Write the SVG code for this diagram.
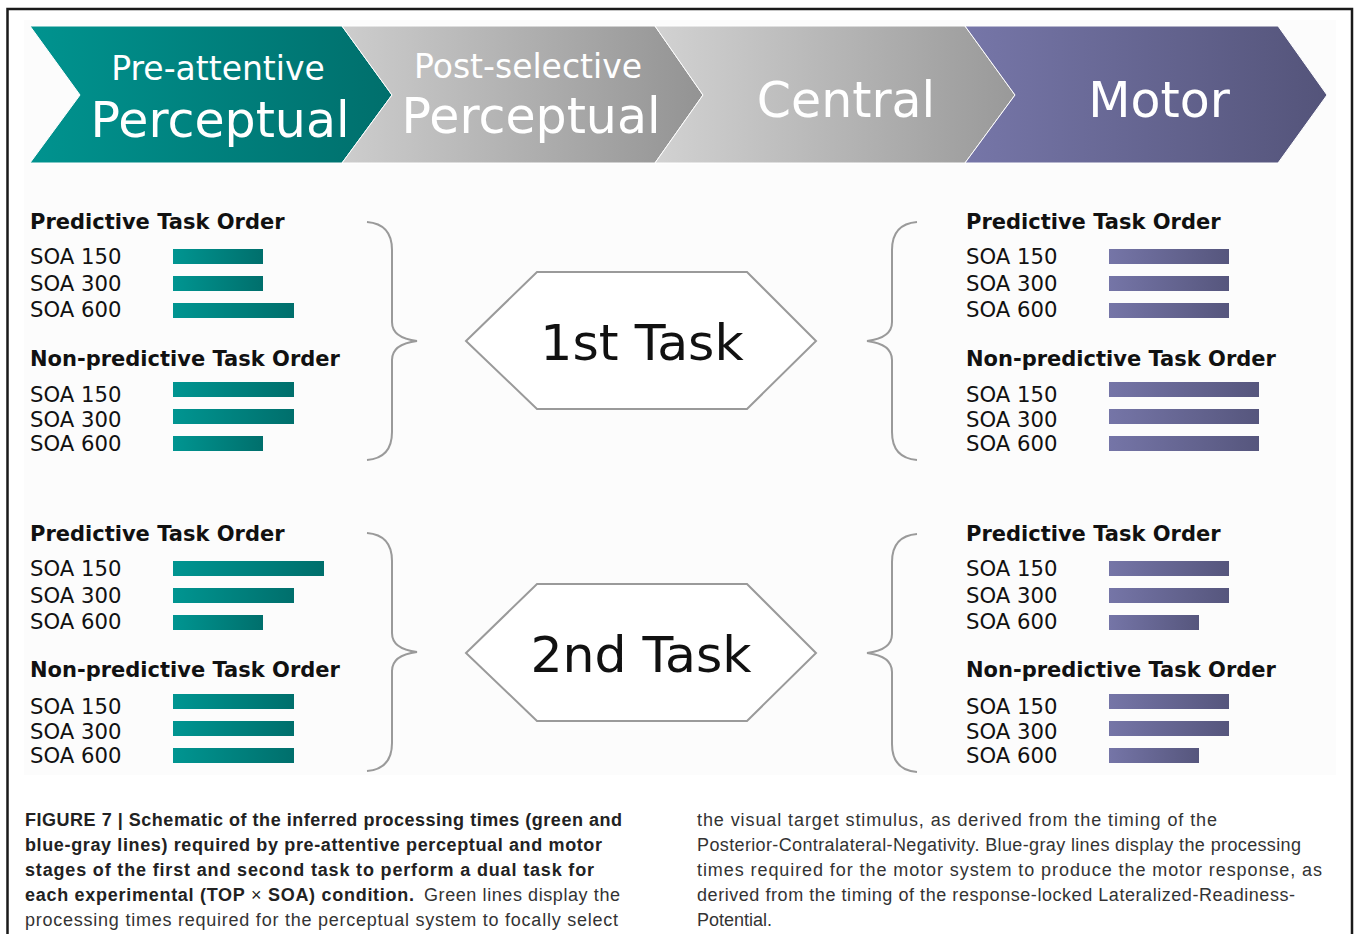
<svg xmlns="http://www.w3.org/2000/svg" width="1355" height="934" viewBox="0 0 1355 934">
<defs>
<linearGradient id="gTeal" x1="0" y1="0" x2="1" y2="0"><stop offset="0" stop-color="#00938f"/><stop offset="1" stop-color="#006f6c"/></linearGradient>
<linearGradient id="gGrey1" x1="0" y1="0" x2="1" y2="0"><stop offset="0" stop-color="#cdcdcd"/><stop offset="1" stop-color="#939393"/></linearGradient>
<linearGradient id="gGrey2" x1="0" y1="0" x2="1" y2="0"><stop offset="0" stop-color="#d2d2d2"/><stop offset="1" stop-color="#999999"/></linearGradient>
<linearGradient id="gMotor" x1="0" y1="0" x2="1" y2="0"><stop offset="0" stop-color="#7676a8"/><stop offset="1" stop-color="#54547a"/></linearGradient>
<linearGradient id="bTeal" x1="0" y1="0" x2="1" y2="0"><stop offset="0" stop-color="#009591"/><stop offset="1" stop-color="#006f6c"/></linearGradient>
<linearGradient id="bMotor" x1="0" y1="0" x2="1" y2="0"><stop offset="0" stop-color="#7575a7"/><stop offset="1" stop-color="#56567d"/></linearGradient>
</defs>
<style>
.frame{fill:none;stroke:#1a1a1a;stroke-width:2.5}
.chev{stroke:#ffffff;stroke-width:1}
.bt{font-family:"DejaVu Sans",Verdana,sans-serif;fill:#ffffff}
.hd{font-family:"DejaVu Sans",Verdana,sans-serif;font-weight:bold;font-size:21px;fill:#111}
.soa{font-family:"DejaVu Sans",Verdana,sans-serif;font-size:21.2px;fill:#111}
.bt1{fill:url(#bTeal)}
.bm{fill:url(#bMotor)}
.brace{fill:none;stroke:#9a9a9a;stroke-width:2}
.hex{fill:#ffffff;stroke:#9a9a9a;stroke-width:2}
.task{font-family:"DejaVu Sans",Verdana,sans-serif;font-size:50.5px;fill:#111;text-anchor:middle}
.cb{font-family:"Liberation Sans",Arial,sans-serif;font-weight:bold;font-size:18px;fill:#222}
.cr{font-family:"Liberation Sans",Arial,sans-serif;font-size:18px;fill:#333}
</style>
<rect x="0" y="0" width="1355" height="934" fill="#ffffff"/>
<rect x="24" y="20" width="1312" height="755" fill="#fcfcfc"/>
<path class="frame" d="M7.5 934 V9 H1352 V934"/>

<g id="banner">
<g id="stage-preattentive">
<polygon class="chev" points="30,26 342,26 392,95 342,163 30,163 80,95" fill="url(#gTeal)"/>
<text class="bt" x="218" y="80" font-size="33" text-anchor="middle">Pre-attentive</text>
<text class="bt" x="220" y="137" font-size="49" text-anchor="middle">Perceptual</text>
</g>
<g id="stage-postselective">
<polygon class="chev" points="342,26 655,26 703,95 655,163 342,163 392,95" fill="url(#gGrey1)"/>
<text class="bt" x="528" y="78" font-size="33" text-anchor="middle">Post-selective</text>
<text class="bt" x="531" y="133" font-size="49" text-anchor="middle">Perceptual</text>
</g>
<g id="stage-central">
<polygon class="chev" points="655,26 965,26 1015,95 965,163 655,163 703,95" fill="url(#gGrey2)"/>
<text class="bt" x="846" y="117" font-size="49" text-anchor="middle">Central</text>
</g>
<g id="stage-motor">
<polygon class="chev" points="965,26 1278,26 1327,95 1278,163 965,163 1015,95" fill="url(#gMotor)"/>
<text class="bt" x="1159" y="117" font-size="49" text-anchor="middle">Motor</text>
</g>
</g>

<g id="connectors">
<path class="brace" d="M367 222 Q392 224 392 250 L392 322 Q392 338 417 341 Q392 344 392 360 L392 432 Q392 458 367 460"/>
<path class="brace" d="M367 533 Q392 535 392 561 L392 633 Q392 649 417 652 Q392 655 392 671 L392 743 Q392 769 367 771"/>
<path class="brace" d="M917 222 Q892 224 892 250 L892 322 Q892 338 867 341 Q892 344 892 360 L892 432 Q892 458 917 460"/>
<path class="brace" d="M917 534 Q892 536 892 562 L892 634 Q892 650 867 653 Q892 656 892 672 L892 744 Q892 770 917 772"/>
</g>

<g id="task1">
<polygon class="hex" points="466,341 537,272 747,272 816,341 747,409 537,409"/>
<text class="task" x="642" y="360">1st Task</text>
</g>
<g id="task2">
<polygon class="hex" points="466,653 537,584 747,584 816,653 747,721 537,721"/>
<text class="task" x="641" y="672">2nd Task</text>
</g>

<g id="perc-task1">
<text class="hd" x="30" y="229">Predictive Task Order</text>
<text class="soa" x="30" y="264">SOA 150</text>
<text class="soa" x="30" y="290.5">SOA 300</text>
<text class="soa" x="30" y="317">SOA 600</text>
<rect class="bt1" x="173" y="249" width="90" height="15"/>
<rect class="bt1" x="173" y="276" width="90" height="15"/>
<rect class="bt1" x="173" y="303" width="121" height="15"/>
<text class="hd" x="30" y="366">Non-predictive Task Order</text>
<text class="soa" x="30" y="402">SOA 150</text>
<text class="soa" x="30" y="427">SOA 300</text>
<text class="soa" x="30" y="451">SOA 600</text>
<rect class="bt1" x="173" y="382" width="121" height="15"/>
<rect class="bt1" x="173" y="409" width="121" height="15"/>
<rect class="bt1" x="173" y="436" width="90" height="15"/>
</g>

<g id="motor-task1">
<text class="hd" x="966" y="229">Predictive Task Order</text>
<text class="soa" x="966" y="264">SOA 150</text>
<text class="soa" x="966" y="290.5">SOA 300</text>
<text class="soa" x="966" y="317">SOA 600</text>
<rect class="bm" x="1109" y="249" width="120" height="15"/>
<rect class="bm" x="1109" y="276" width="120" height="15"/>
<rect class="bm" x="1109" y="303" width="120" height="15"/>
<text class="hd" x="966" y="366">Non-predictive Task Order</text>
<text class="soa" x="966" y="402">SOA 150</text>
<text class="soa" x="966" y="427">SOA 300</text>
<text class="soa" x="966" y="451">SOA 600</text>
<rect class="bm" x="1109" y="382" width="150" height="15"/>
<rect class="bm" x="1109" y="409" width="150" height="15"/>
<rect class="bm" x="1109" y="436" width="150" height="15"/>
</g>

<g id="perc-task2">
<text class="hd" x="30" y="541">Predictive Task Order</text>
<text class="soa" x="30" y="576">SOA 150</text>
<text class="soa" x="30" y="602.5">SOA 300</text>
<text class="soa" x="30" y="629">SOA 600</text>
<rect class="bt1" x="173" y="561" width="151" height="15"/>
<rect class="bt1" x="173" y="588" width="121" height="15"/>
<rect class="bt1" x="173" y="615" width="90" height="15"/>
<text class="hd" x="30" y="677">Non-predictive Task Order</text>
<text class="soa" x="30" y="714">SOA 150</text>
<text class="soa" x="30" y="739">SOA 300</text>
<text class="soa" x="30" y="763">SOA 600</text>
<rect class="bt1" x="173" y="694" width="121" height="15"/>
<rect class="bt1" x="173" y="721" width="121" height="15"/>
<rect class="bt1" x="173" y="748" width="121" height="15"/>
</g>

<g id="motor-task2">
<text class="hd" x="966" y="541">Predictive Task Order</text>
<text class="soa" x="966" y="576">SOA 150</text>
<text class="soa" x="966" y="602.5">SOA 300</text>
<text class="soa" x="966" y="629">SOA 600</text>
<rect class="bm" x="1109" y="561" width="120" height="15"/>
<rect class="bm" x="1109" y="588" width="120" height="15"/>
<rect class="bm" x="1109" y="615" width="90" height="15"/>
<text class="hd" x="966" y="677">Non-predictive Task Order</text>
<text class="soa" x="966" y="714">SOA 150</text>
<text class="soa" x="966" y="739">SOA 300</text>
<text class="soa" x="966" y="763">SOA 600</text>
<rect class="bm" x="1109" y="694" width="120" height="15"/>
<rect class="bm" x="1109" y="721" width="120" height="15"/>
<rect class="bm" x="1109" y="748" width="90" height="15"/>
</g>

<g id="caption">
<text class="cb" x="25" y="826" textLength="597" lengthAdjust="spacing">FIGURE 7 | Schematic of the inferred processing times (green and</text>
<text class="cb" x="25" y="851" textLength="577" lengthAdjust="spacing">blue-gray lines) required by pre-attentive perceptual and motor</text>
<text class="cb" x="25" y="876" textLength="569" lengthAdjust="spacing">stages of the first and second task to perform a dual task for</text>
<text class="cb" x="25" y="901" textLength="389" lengthAdjust="spacing">each experimental (TOP <tspan font-weight="normal">×</tspan> SOA) condition.</text>
<text class="cr" x="424" y="901" textLength="196" lengthAdjust="spacing">Green lines display the</text>
<text class="cr" x="25" y="926" textLength="593" lengthAdjust="spacing">processing times required for the perceptual system to focally select</text>
<text class="cr" x="697" y="826" textLength="520" lengthAdjust="spacing">the visual target stimulus, as derived from the timing of the</text>
<text class="cr" x="697" y="851" textLength="604" lengthAdjust="spacing">Posterior-Contralateral-Negativity.  Blue-gray lines display the processing</text>
<text class="cr" x="697" y="876" textLength="625" lengthAdjust="spacing">times required for the motor system to produce the motor response, as</text>
<text class="cr" x="697" y="901" textLength="598" lengthAdjust="spacing">derived from the timing of the response-locked Lateralized-Readiness-</text>
<text class="cr" x="697" y="926">Potential.</text>
</g>
</svg>
